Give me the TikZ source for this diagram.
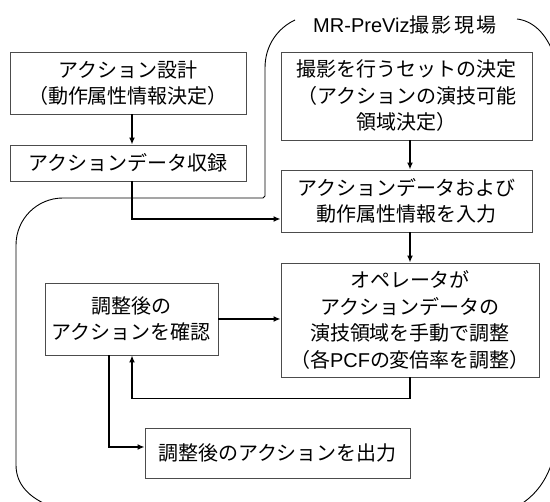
\documentclass[tikz,border=0pt]{standalone}
\usepackage{fontspec}
\setmainfont{Noto Sans CJK JP}
\newfontfamily\latfont{Liberation Sans}
\newfontfamily\titlejp[LetterSpace=12]{Noto Sans CJK JP}
\usetikzlibrary{arrows.meta}
\begin{document}
\begin{tikzpicture}[x=1pt,y=-1pt,
  box/.style={draw=black!70, line width=0.9pt, align=center, inner sep=0pt,
              font=\fontsize{20}{26.5}\selectfont},
  arr/.style={line width=1.4pt, -{Latex[length=7pt,width=6pt]}},
  region/.style={line width=0.9pt},
  ttl/.style={inner sep=0pt, font=\fontsize{20}{26}\selectfont}]
\useasboundingbox (0,0) rectangle (550,502);
\clip (0,0) rectangle (550,502);

% region outline
\draw[region] (295,20) .. controls (278,28) and (265,45) .. (265,68)
  -- (265,196) -- (263,198) -- (63,198)
  .. controls (37,198) and (16,219) .. (16,245)
  -- (16,465) .. controls (16,485) and (30,498) .. (50,506);
\draw[region] (517,19) .. controls (533,21) and (546,33) .. (554,55);
\draw[region] (518,506) .. controls (535,496) and (548,480) .. (554,455);
\node[ttl] (title) at (405,25) {{\latfont MR-PreViz}{\titlejp 撮影現場}};

% boxes
\node[box, minimum width=236pt, minimum height=62pt] (b1) at (128,83)
  {アクション設計\\（動作属性情報決定）};
\node[box, minimum width=236pt, minimum height=36pt] (b2) at (128,163)
  {アクションデータ収録};
\node[box, minimum width=251pt, minimum height=88pt] (b3) at (406.5,96)
  {撮影を行うセットの決定\\（アクションの演技可能\\領域決定）};
\node[box, minimum width=251pt, minimum height=62pt] (b4) at (406.5,201)
  {アクションデータおよび\\動作属性情報を入力};
\node[box, minimum width=258pt, minimum height=114pt] (b5) at (410,320)
  {オペレータが\\アクションデータの\\演技領域を手動で調整\\（各{\latfont PCF}の変倍率を調整）};
\node[box, minimum width=173pt, minimum height=72pt] (b6) at (131.5,319)
  {調整後の\\アクションを確認};
\node[box, minimum width=265pt, minimum height=50pt] (b7) at (277.5,453)
  {調整後のアクションを出力};

% connectors
\draw[arr] ([xshift=4pt]b1.south) -- ([xshift=4pt]b2.north);
\draw[arr] ([xshift=4pt]b2.south) |- ([yshift=-18pt]b4.west);
\draw[arr] ([xshift=3.5pt]b3.south) -- ([xshift=3.5pt]b4.north);
\draw[arr] ([xshift=3.5pt]b4.south) -- (b5.north);
\draw[arr] (b6.east) -- (b6.east -| b5.west);
\draw[arr] (b5.south) -- ++(0,21) -| ([xshift=0.5pt]b6.south);
\draw[arr] ([xshift=-22.5pt]b6.south) |- ([yshift=6pt]b7.west);
\end{tikzpicture}
\end{document}
